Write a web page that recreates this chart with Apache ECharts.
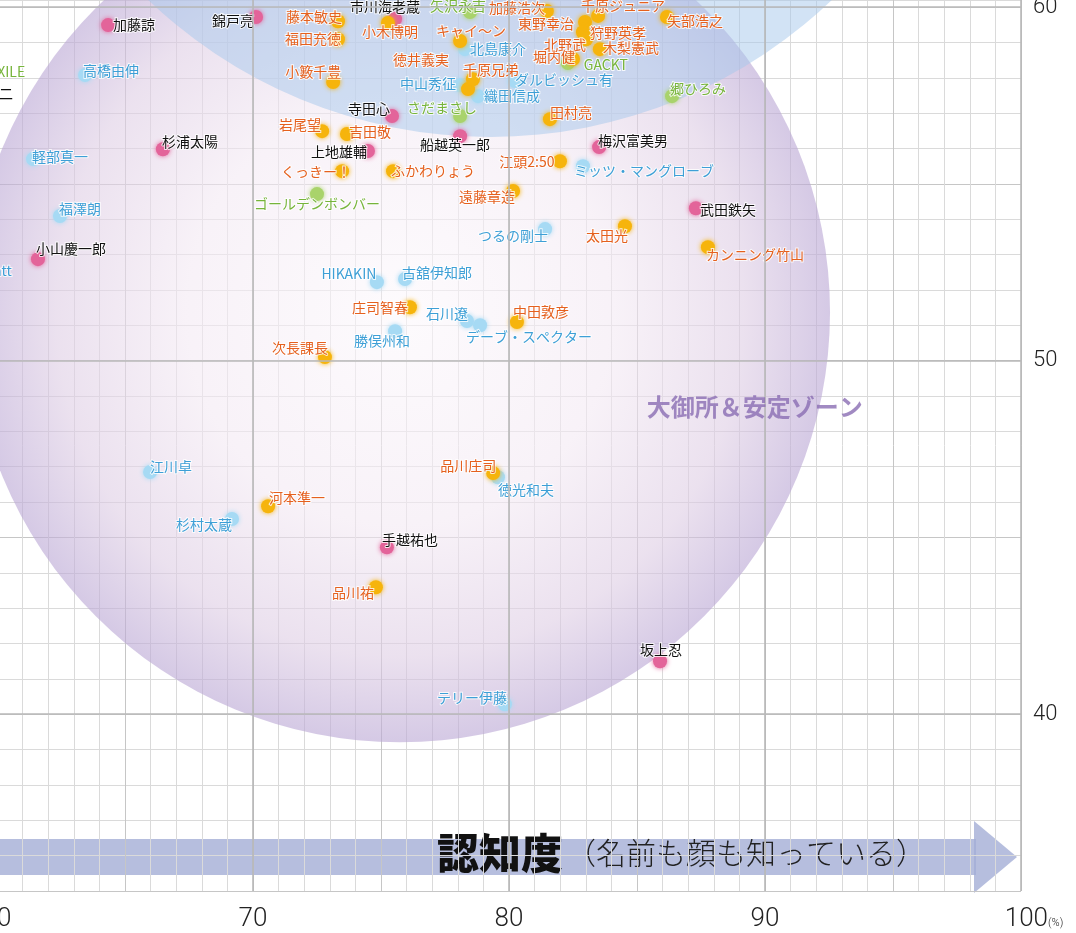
<!DOCTYPE html>
<html>
<head>
<meta charset="utf-8">
<script src="https://cdn.jsdelivr.net/npm/echarts@6/dist/echarts.min.js"></script>
<style>
  html, body { margin: 0; padding: 0; background: #fff; }
  #chart { width: 1076px; height: 933px; }
</style>
</head>
<body>
<div id="chart"></div>
<script>
// 認知度マップ（x: 認知度 %, y: 縦軸スコア）

// ピンク（黒文字）
var pinkNames = ['加藤諒', '錦戸亮', '市川海老蔵', '寺田心', '梅沢富美男', '上地雄輔', '船越英一郎',
  '武田鉄矢', '杉浦太陽', '小山慶一郎', '手越祐也', '坂上忍', '綾部祐二'];
var pinkX = [64.34, 70.12, 75.55, 75.43, 83.52, 74.49, 78.09, 87.30, 66.48, 61.60, 75.23, 85.90, 58.28];
var pinkY = [59.49, 59.72, 59.66, 56.92, 56.04, 55.93, 56.35, 54.31, 55.98, 52.87, 44.72, 41.50, 57.54];

// オレンジ
var orangeNames = ['藤本敏史', '福田充徳', '小籔千豊', '小木博明', '加藤浩次', 'キャイ〜ン', '東野幸治',
  '千原ジュニア', '狩野英孝', '矢部浩之', '北野武', '木梨憲武', '堀内健', '徳井義実', '千原兄弟', '田村亮',
  '岩尾望', '吉田敬', 'くっきー！', 'ふかわりょう', '江頭2:50', '遠藤章造', '太田光', 'カンニング竹山',
  '庄司智春', '中田敦彦', '次長課長', '河本準一', '品川庄司', '品川祐'];
var orangeX = [73.32, 73.32, 73.13, 75.27, 81.48, 78.09, 82.97, 83.48, 82.89, 86.17, 83.01, 83.55, 82.50,
  78.40, 78.59, 81.60, 72.70, 73.67, 73.48, 75.47, 81.99, 80.16, 84.53, 87.77, 76.13, 80.31, 72.81, 70.59,
  79.38, 74.80];
var orangeY = [59.60, 59.09, 57.88, 59.55, 59.89, 59.04, 59.58, 59.75, 59.29, 59.72, 59.09, 58.81, 58.53,
  57.68, 57.96, 56.83, 56.49, 56.41, 55.36, 55.36, 55.64, 54.80, 53.80, 53.21, 51.51, 51.09, 50.10, 45.88,
  46.82, 43.59];

// 水色
var blueNames = ['北島康介', '中山秀征', '織田信成', 'ダルビッシュ有', 'ミッツ・マングローブ', '軽部真一',
  '福澤朗', '高橋由伸', 'HIKAKIN', '古舘伊知郎', '石川遼', 'デーブ・スペクター', '勝俣州和', 'つるの剛士',
  '江川卓', '杉村太蔵', '徳光和夫', 'テリー伊藤', 'Matt'];
var blueX = [78.28, 78.09, 78.79, 80.23, 82.89, 61.41, 62.46, 63.44, 74.84, 75.94, 78.36, 78.87, 75.55,
  81.41, 65.98, 69.18, 79.57, 79.84, 58.95];
var blueY = [58.81, 57.79, 57.48, 57.91, 55.50, 55.70, 54.09, 58.08, 52.22, 52.31, 51.12, 51.00, 50.83,
  53.72, 46.85, 45.52, 46.70, 40.28, 52.45];

// 緑
var greenNames = ['矢沢永吉', 'GACKT', 'さだまさし', '郷ひろみ', 'ゴールデンボンバー', 'EXILE'];
var greenX = [78.48, 82.30, 78.09, 86.37, 72.50, 59.30];
var greenY = [59.86, 58.42, 56.92, 57.48, 54.71, 58.13];

// ゾーン（円）: 中心と半径（x軸の単位）
var zoneX = [75.74, 79.26];
var zoneY = [51.37, 70.33];
var zoneR = [16.8, 19.34];
var zoneTitle = ['大御所＆安定ゾーン'];
var zoneTitleX = [89.6];
var zoneTitleY = [48.7];

var xTicks = [70, 80, 90, 100];
var yTicks = [40, 50, 60];

// ラベル位置（点からのずれ px）
var labelOffset = {
  '加藤諒': [26, 0], '錦戸亮': [-23, 4], '市川海老蔵': [-10, -12], '寺田心': [-23, -7],
  '梅沢富美男': [34, -6], '上地雄輔': [-29, 1], '船越英一郎': [-5, 9], '武田鉄矢': [32, 1],
  '杉浦太陽': [27, -8], '小山慶一郎': [33, -10], '手越祐也': [23, -8], '坂上忍': [1, -11],
  '綾部祐二': [32, 0],
  '藤本敏史': [-24, -5], '福田充徳': [-25, -1], '小籔千豊': [-20, -10], '小木博明': [2, 9],
  '加藤浩次': [-30, -3], 'キャイ〜ン': [11, -10], '東野幸治': [-39, 2], '千原ジュニア': [25, -10],
  '狩野英孝': [35, 1], '矢部浩之': [28, 4], '北野武': [-21, 5], '木梨憲武': [31, -1],
  '堀内健': [-19, -2], '徳井義実': [-47, -29], '千原兄弟': [18, -10], '田村亮': [21, -6],
  '岩尾望': [-22, -6], '吉田敬': [23, -2], 'くっきー！': [-26, 1], 'ふかわりょう': [40, 0],
  '江頭2:50': [-33, 0], '遠藤章造': [-26, 6], '太田光': [-18, 9], 'カンニング竹山': [47, 8],
  '庄司智春': [-30, 0], '中田敦彦': [24, -10], '次長課長': [-25, -9], '河本準一': [29, -9],
  '品川庄司': [-25, -7], '品川祐': [-23, 5],
  '北島康介': [33, 0], '中山秀征': [-32, -2], '織田信成': [34, 0], 'ダルビッシュ有': [49, -1],
  'ミッツ・マングローブ': [61, 5], '軽部真一': [27, -2], '福澤朗': [20, -7], '高橋由伸': [26, -4],
  'HIKAKIN': [-28, -8], '古舘伊知郎': [32, -6], '石川遼': [-20, -7], 'デーブ・スペクター': [49, 11],
  '勝俣州和': [-13, 9], 'つるの剛士': [-32, 7], '江川卓': [21, -5], '杉村太蔵': [-28, 6],
  '徳光和夫': [28, 12], 'テリー伊藤': [-33, -7], 'Matt': [27, -3],
  '矢沢永吉': [-12, -6], 'GACKT': [38, 2], 'さだまさし': [-18, -8], '郷ひろみ': [26, -7],
  'ゴールデンボンバー': [0, 10], 'EXILE': [28, -2]
};

var jpFont = '"Noto Sans CJK JP", "Noto Sans", sans-serif';
var numFont = 'Roboto, "Liberation Sans", sans-serif';

function makeData(names, xs, ys) {
  return names.map(function (n, i) {
    return { name: n, value: [xs[i], ys[i]], label: { offset: labelOffset[n] || [0, -12] } };
  });
}

function dotSeries(name, names, xs, ys, dot, text) {
  return {
    type: 'scatter',
    name: name,
    z: 4,
    clip: false,
    silent: true,
    symbolSize: 14,
    data: makeData(names, xs, ys),
    itemStyle: { color: dot, opacity: 1, shadowBlur: 5, shadowColor: dot },
    label: {
      show: true,
      position: 'inside',
      formatter: '{b}',
      color: text,
      fontSize: 14,
      fontFamily: jpFont,
      textBorderColor: 'rgba(255,255,255,0.8)',
      textBorderWidth: 2
    }
  };
}

var zoneFills = [
  {
    type: 'radial', x: 0.5, y: 0.5, r: 0.5,
    colorStops: [
      { offset: 0, color: 'rgba(252,248,252,0.6)' },
      { offset: 0.5, color: 'rgba(243,233,243,0.6)' },
      { offset: 0.8, color: 'rgba(222,205,228,0.6)' },
      { offset: 1, color: 'rgba(187,168,213,0.62)' }
    ]
  },
  'rgba(165,200,236,0.5)'
];

var chart = echarts.init(document.getElementById('chart'));

var minorX = ['#c6c6c6', '#dadada', '#dadada', '#dadada', '#dadada'];

var option = {
  animation: false,
  backgroundColor: '#fff',
  grid: { left: -3, right: 55, top: 0, bottom: 42, containLabel: false, outerBoundsMode: 'none' },
  xAxis: {
    type: 'value',
    min: 60,
    max: 100,
    interval: 1,
    axisLine: { show: false },
    axisTick: { show: false },
    splitLine: { show: true, lineStyle: { color: minorX, width: 1 } },
    axisLabel: {
      margin: 15,
      fontFamily: numFont,
      fontWeight: 300,
      fontSize: 26,
      color: '#222',
      formatter: function (v) {
        if (v === 100) return '{a|100}{b|(%)}';
        return v % 10 === 0 ? String(v) : '';
      },
      rich: {
        a: { fontFamily: numFont, fontWeight: 300, fontSize: 26, color: '#222', padding: [0, 0, 0, 26] },
        b: { fontFamily: numFont, fontSize: 11, color: '#222', padding: [8, 0, 0, 0] }
      }
    }
  },
  yAxis: {
    type: 'value',
    position: 'right',
    min: 35,
    max: 60.2,
    interval: 1,
    axisLine: { show: false },
    axisTick: { show: false },
    splitLine: { show: true, lineStyle: { color: minorX, width: 1 } },
    axisLabel: {
      margin: 12,
      fontFamily: numFont,
      fontWeight: 300,
      fontSize: 22,
      color: '#222',
      formatter: function (v) {
        return Math.abs(v % 10) < 1e-6 ? String(v) : '';
      }
    }
  },
  series: [
    {
      type: 'custom',
      name: 'zones',
      z: 2,
      clip: true,
      silent: true,
      data: zoneX.map(function (x, i) { return [x, zoneY[i], zoneR[i], i]; }),
      renderItem: function (params, api) {
        var c = api.coord([api.value(0), api.value(1)]);
        var r = api.size([api.value(2), 0])[0];
        return {
          type: 'circle',
          shape: { cx: c[0], cy: c[1], r: r },
          style: { fill: zoneFills[api.value(3)] }
        };
      }
    },
    {
      type: 'scatter',
      name: 'major',
      z: 1,
      silent: true,
      data: [],
      markLine: {
        silent: true,
        symbol: 'none',
        label: { show: false },
        lineStyle: { color: '#b8b8b8', width: 1.6, type: 'solid' },
        data: xTicks.map(function (v) { return { xAxis: v }; })
          .concat(yTicks.map(function (v) { return { yAxis: v }; }))
      }
    },
    dotSeries('blue', blueNames, blueX, blueY, '#a6daf4', '#3d9fd6'),
    dotSeries('green', greenNames, greenX, greenY, '#a9d36b', '#76b43a'),
    dotSeries('pink', pinkNames, pinkX, pinkY, '#e3649a', '#111'),
    dotSeries('orange', orangeNames, orangeX, orangeY, '#f6b40c', '#e5601e'),
    {
      type: 'scatter',
      name: 'zoneTitle',
      z: 5,
      silent: true,
      symbolSize: 0,
      data: zoneTitle.map(function (t, i) { return { name: t, value: [zoneTitleX[i], zoneTitleY[i]] }; }),
      label: {
        show: true,
        position: 'inside',
        formatter: '{b}',
        color: '#8a6db3',
        fontSize: 24,
        fontWeight: 'bold',
        fontFamily: jpFont
      }
    }
  ],
  graphic: [
    {
      type: 'group',
      z: 10,
      silent: true,
      children: [
        { type: 'rect', shape: { x: 0, y: 839, width: 976, height: 36 }, style: { fill: 'rgba(164,174,214,0.8)' } },
        { type: 'polygon', shape: { points: [[974, 821], [1017, 857], [974, 893]] }, style: { fill: 'rgba(164,174,214,0.8)' } },
        {
          type: 'text', x: 437, y: 853,
          style: { text: '認知度', fill: '#111', font: '900 42px "Noto Sans CJK JP"', textVerticalAlign: 'middle' }
        },
        {
          type: 'text', x: 566, y: 853,
          style: { text: '（名前も顔も知っている）', fill: '#222', font: '300 30px "Noto Sans CJK JP"', textVerticalAlign: 'middle' }
        }
      ]
    }
  ]
};

chart.setOption(option);
</script>
</body>
</html>
